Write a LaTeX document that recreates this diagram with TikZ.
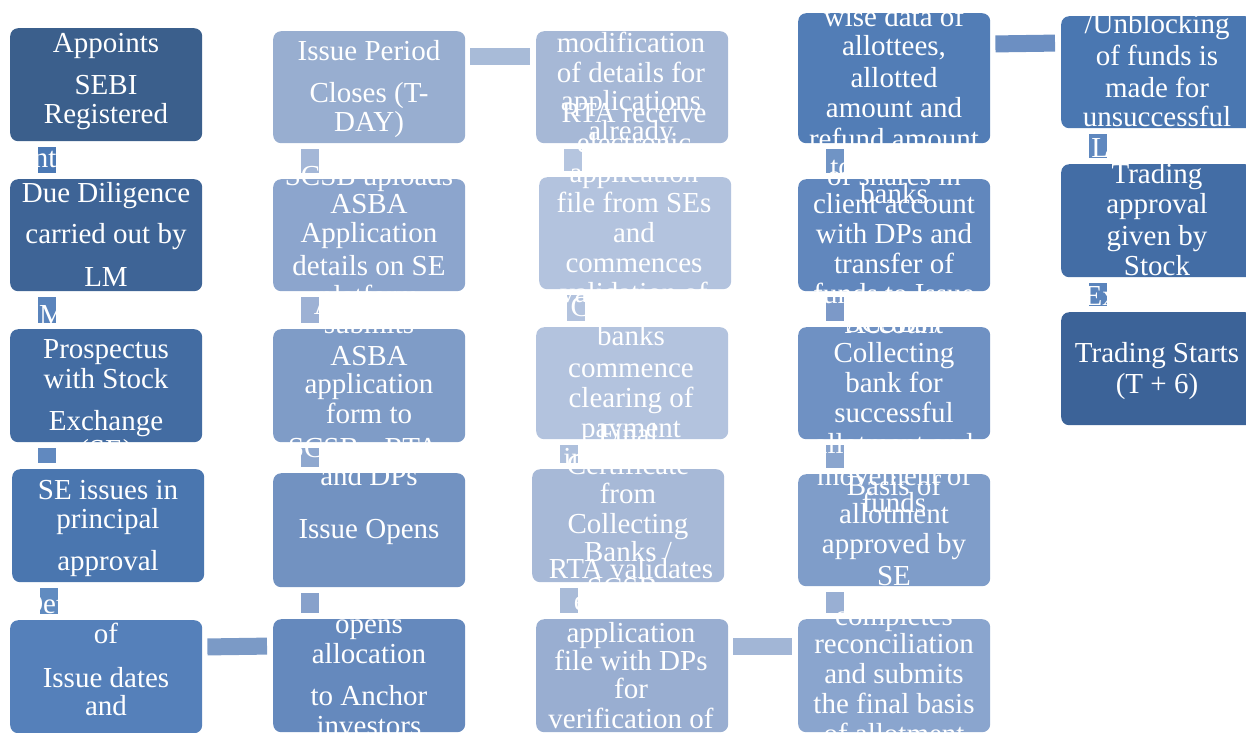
\documentclass[tikz,border=0pt]{standalone}
\usepackage{fontspec}
\setmainfont{Liberation Serif}
\definecolor{b11}{HTML}{3B5F8C}\definecolor{b12}{HTML}{3E6496}\definecolor{b13}{HTML}{436CA2}\definecolor{b14}{HTML}{4A76AF}\definecolor{b15}{HTML}{5580BA}
\definecolor{b21}{HTML}{98AED0}\definecolor{b22}{HTML}{8CA5CD}\definecolor{b23}{HTML}{7F9CC7}\definecolor{b24}{HTML}{7292C1}\definecolor{b25}{HTML}{6589BD}
\definecolor{b31}{HTML}{A6B8D6}\definecolor{b32}{HTML}{B3C3DE}\definecolor{b33}{HTML}{B3C3DE}\definecolor{b34}{HTML}{A7B9D7}\definecolor{b35}{HTML}{99AED1}
\definecolor{b41}{HTML}{527DB6}\definecolor{b42}{HTML}{6187BD}\definecolor{b43}{HTML}{6F91C3}\definecolor{b44}{HTML}{7F9DC9}\definecolor{b45}{HTML}{8AA5CE}
\definecolor{b51}{HTML}{4A77B1}\definecolor{b52}{HTML}{436DA5}\definecolor{b53}{HTML}{3C6398}
\definecolor{k11}{HTML}{4B79B5}\definecolor{k12}{HTML}{5A84BC}\definecolor{k13}{HTML}{6189BF}\definecolor{k14}{HTML}{608BC0}
\definecolor{k21}{HTML}{A4B7D7}\definecolor{k22}{HTML}{9DB1D4}\definecolor{k23}{HTML}{8FA8CF}\definecolor{k24}{HTML}{87A1CB}
\definecolor{k31}{HTML}{B5C5DF}\definecolor{k32}{HTML}{B3C3DE}\definecolor{k33}{HTML}{AEC0DC}\definecolor{k34}{HTML}{A9BBD8}
\definecolor{k41}{HTML}{7094C5}\definecolor{k42}{HTML}{7C99C8}\definecolor{k43}{HTML}{8AA5CE}\definecolor{k44}{HTML}{99AFD3}
\definecolor{k51}{HTML}{5F88BF}\definecolor{k52}{HTML}{5A84BC}
\definecolor{h12}{HTML}{7B9AC6}\definecolor{h23}{HTML}{A8BBD8}\definecolor{h34}{HTML}{A2B6D6}\definecolor{h45}{HTML}{6C8FC2}
\tikzset{
  box/.style={draw=none, rounded corners=8pt, anchor=north west, minimum width=192pt, inner sep=0pt},
  vconn/.style={line width=18pt, shorten <=6pt, shorten >=6pt},
  hconn/.style={line width=17pt, shorten <=5pt, shorten >=6pt},
  txt/.style={text=white, font=\fontsize{29}{30}\selectfont, anchor=base, inner sep=0pt}
}
\newcommand\tline[4]{\node[txt] (#1) at (#2,#3) {#4};}
\newcommand\vlink[3]{\draw[vconn, #3] ([xshift=37pt]#1.south west) -- ([xshift=37pt]#1.south west |- #2.north);}
\begin{document}
\begin{tikzpicture}[x=1pt,y=-1pt]
\useasboundingbox (0,0) rectangle (1246,732);
\clip (0,0) rectangle (1246,732);
% boxes
\node[box, fill=b11, minimum height=113pt] (c1r1) at (10,28) {};
\node[box, fill=b12, minimum height=112pt] (c1r2) at (10,179) {};
\node[box, fill=b13, minimum height=113pt] (c1r3) at (10,329) {};
\node[box, fill=b14, minimum height=113pt] (c1r4) at (12,469) {};
\node[box, fill=b15, minimum height=113pt] (c1r5) at (10,620) {};
\node[box, fill=b21, minimum height=112pt] (c2r1) at (273,31) {};
\node[box, fill=b22, minimum height=112pt] (c2r2) at (273,179) {};
\node[box, fill=b23, minimum height=113pt] (c2r3) at (273,329) {};
\node[box, fill=b24, minimum height=114pt] (c2r4) at (273,473) {};
\node[box, fill=b25, minimum height=113pt] (c2r5) at (273,619) {};
\node[box, fill=b31, minimum height=112pt] (c3r1) at (536,31) {};
\node[box, fill=b32, minimum height=112pt] (c3r2) at (539,177) {};
\node[box, fill=b33, minimum height=112pt] (c3r3) at (536,327) {};
\node[box, fill=b34, minimum height=113pt] (c3r4) at (532,469) {};
\node[box, fill=b35, minimum height=113pt] (c3r5) at (536,619) {};
\node[box, fill=b41, minimum height=130pt] (c4r1) at (798,13) {};
\node[box, fill=b42, minimum height=112pt] (c4r2) at (798,179) {};
\node[box, fill=b43, minimum height=112pt] (c4r3) at (798,327) {};
\node[box, fill=b44, minimum height=112pt] (c4r4) at (798,474) {};
\node[box, fill=b45, minimum height=113pt] (c4r5) at (798,619) {};
\node[box, fill=b51, minimum height=112pt] (c5r1) at (1061,16) {};
\node[box, fill=b52, minimum height=113pt] (c5r2) at (1061,164) {};
\node[box, fill=b53, minimum height=113pt] (c5r3) at (1061,312) {};
% vertical connectors
\vlink{c1r1}{c1r2}{k11}
\vlink{c1r2}{c1r3}{k12}
\vlink{c1r3}{c1r4}{k13}
\vlink{c1r4}{c1r5}{k14}
\vlink{c2r4}{c2r5}{k24}
\vlink{c2r3}{c2r4}{k23}
\vlink{c2r2}{c2r3}{k22}
\vlink{c2r1}{c2r2}{k21}
\vlink{c3r1}{c3r2}{k31}
\vlink{c3r2}{c3r3}{k32}
\draw[vconn, k33] ([xshift=37pt]c3r4.north west |- c3r3.south) -- ([xshift=37pt]c3r4.north west);
\vlink{c3r4}{c3r5}{k34}
\vlink{c4r4}{c4r5}{k44}
\vlink{c4r3}{c4r4}{k43}
\vlink{c4r2}{c4r3}{k42}
\vlink{c4r1}{c4r2}{k41}
\vlink{c5r1}{c5r2}{k51}
\vlink{c5r2}{c5r3}{k52}
% horizontal connectors
\draw[hconn, h12] ([yshift=-27pt]c1r5.north east) -- ([yshift=-27pt]c2r5.north west);
\draw[hconn, h23] ([yshift=-25.5pt]c2r1.north east) -- ([yshift=-25.5pt]c3r1.north west);
\draw[hconn, h34] ([yshift=-27.5pt]c3r5.north east) -- ([yshift=-27.5pt]c4r5.north west);
\draw[hconn, h45] ([yshift=-31pt]c4r1.north east) -- ([yshift=-27pt]c5r1.north west);
% column 1 texts
\tline{a1}{106}{52}{Appoints}
\tline{a2}{106}{94}{SEBI}
\tline{a3}{106}{123}{Registered}
\tline{a4}{108}{167}{Intermediaries}
\tline{b1}{106}{202}{Due Diligence}
\tline{b2}{106}{243}{carried out by}
\tline{b3}{106}{286}{LM}
\tline{d0}{106}{324}{LM files Draft}
\tline{d1}{106}{358}{Prospectus}
\tline{d2}{106}{388}{with Stock}
\tline{d3}{106}{430}{Exchange}
\tline{d4}{106}{459}{(SE)}
\tline{e1}{108}{499}{SE issues in}
\tline{e2}{108}{528}{principal}
\tline{e3}{108}{570}{approval}
\tline{f0}{106}{613}{Determination}
\tline{f1}{106}{643}{of}
\tline{f2}{106}{687}{Issue dates}
\tline{f3}{106}{715}{and}
% column 2 texts
\tline{g1}{369}{60}{Issue Period}
\tline{g2}{369}{102}{Closes (T-}
\tline{g3}{369}{131}{DAY)}
\tline{h1}{369}{185}{SCSB uploads}
\tline{h2}{369}{213}{ASBA}
\tline{h3}{369}{242}{Application}
\tline{h4}{369}{275}{details on SE}
\tline{h5}{369}{305}{platform}
\tline{i0}{371}{314}{Applicant}
\tline{i1}{369}{333}{submits}
\tline{i2}{369}{365}{ASBA}
\tline{i3}{369}{393}{application}
\tline{i4}{369}{423}{form to}
\tline{i5}{369}{457}{SCSBs, RTAs}
\tline{i6}{369}{485}{and DPs}
\tline{j1}{369}{538}{Issue Opens}
\tline{l1}{369}{633}{opens}
\tline{l2}{369}{663}{allocation}
\tline{l3}{369}{705}{to Anchor}
\tline{l4}{369}{735}{investors}
% column 3 texts
\tline{m1}{631}{52}{modification}
\tline{m2}{631}{82}{of details for}
\tline{m3}{631}{110}{applications}
\tline{m4}{631}{140}{already}
\tline{n1}{634}{122}{RTA receive}
\tline{n2}{634}{152}{electronic}
\tline{n3}{634}{182}{application}
\tline{n4}{634}{212}{file from SEs}
\tline{n5}{634}{242}{and}
\tline{n6}{634}{272}{commences}
\tline{n7}{634}{302}{validation of}
\tline{o1}{631}{316}{Collecting}
\tline{o2}{631}{345}{banks}
\tline{o3}{631}{377}{commence}
\tline{o4}{631}{407}{clearing of}
\tline{o5}{631}{437}{payment}
\tline{o6}{631}{467}{instruments}
\tline{p1}{628}{443}{Final}
\tline{p2}{628}{474}{Certificate}
\tline{p3}{628}{503}{from}
\tline{p4}{628}{533}{Collecting}
\tline{p5}{628}{561}{Banks /}
\tline{p6}{628}{597}{SCSBs}
\tline{q1}{631}{578}{RTA validates}
\tline{q2}{631}{610}{electronic}
\tline{q3}{631}{642}{application}
\tline{q4}{631}{670}{file with DPs}
\tline{q5}{631}{698}{for}
\tline{q6}{631}{728}{verification of}
% column 4 texts
\tline{r1}{894}{26}{wise data of}
\tline{r2}{894}{55}{allottees,}
\tline{r3}{894}{87}{allotted}
\tline{r4}{894}{117}{amount and}
\tline{r5}{894}{148}{refund amount}
\tline{r6}{894}{176}{to SCSBs /}
\tline{r7}{894}{203}{banks}
\tline{s1}{894}{185}{of shares in}
\tline{s2}{894}{213}{client account}
\tline{s3}{894}{243}{with DPs and}
\tline{s4}{894}{273}{transfer of}
\tline{s5}{894}{303}{funds to Issue}
\tline{s6}{894}{333}{Account}
\tline{u0}{894}{332}{SCSBs /}
\tline{u1}{894}{362}{Collecting}
\tline{u2}{894}{392}{bank for}
\tline{u3}{894}{422}{successful}
\tline{u4}{894}{453}{allotment and}
\tline{u5}{894}{485}{movement of}
\tline{u6}{894}{512}{funds}
\tline{v1}{894}{495}{Basis of}
\tline{v2}{894}{523}{allotment}
\tline{v3}{894}{553}{approved by}
\tline{v4}{894}{585}{SE}
\tline{w1}{894}{625}{completes}
\tline{w2}{894}{653}{reconciliation}
\tline{w3}{894}{683}{and submits}
\tline{w4}{894}{713}{the final basis}
\tline{w5}{894}{743}{of allotment}
% column 5 texts
\tline{y1}{1157}{33}{/Unblocking}
\tline{y2}{1157}{65}{of funds is}
\tline{y3}{1157}{97}{made for}
\tline{y4}{1157}{126}{unsuccessful}
\tline{z0}{1157}{157}{Listing and}
\tline{z1}{1157}{183}{Trading}
\tline{z2}{1157}{213}{approval}
\tline{z3}{1157}{245}{given by}
\tline{z4}{1157}{275}{Stock}
\tline{z5}{1157}{305}{Exchange(s)}
\tline{t1}{1157}{362}{Trading Starts}
\tline{t2}{1157}{393}{(T + 6)}
\end{tikzpicture}
\end{document}
